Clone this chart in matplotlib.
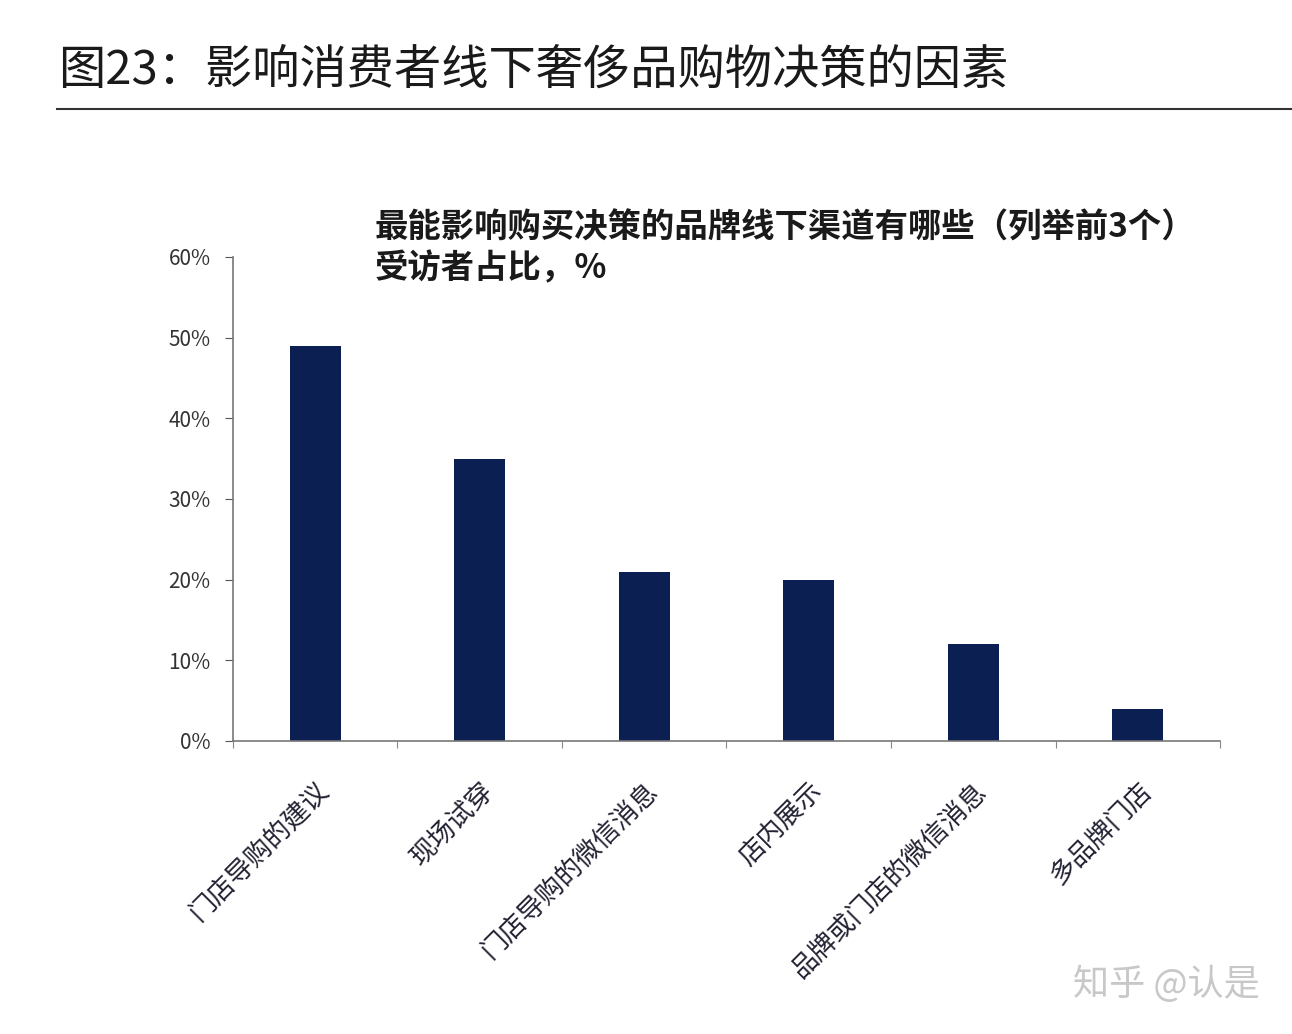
import matplotlib.pyplot as plt
from matplotlib.ticker import FuncFormatter

plt.rcParams['font.family'] = ['Noto Sans CJK SC', 'DejaVu Sans']

categories = ['门店导购的建议', '现场试穿', '门店导购的微信消息', '店内展示',
              '品牌或门店的微信消息', '多品牌门店']
values = [0.49, 0.35, 0.21, 0.20, 0.12, 0.04]
yticks = [0, 0.1, 0.2, 0.3, 0.4, 0.5, 0.6]

fig = plt.figure(figsize=(12.92, 10.34), dpi=100)

# header
fig.text(0.045, 0.932, '图23：影响消费者线下奢侈品购物决策的因素', fontsize=34,
         color='#1a1a1a', va='center', ha='left')
fig.add_artist(plt.Line2D([0.044, 1.0], [0.895, 0.895], color='#333333', lw=1.5))

ax = fig.add_axes([0.1803, 0.2834, 0.764, 0.4681])
x = range(len(categories))
ax.bar(x, values, width=0.31, color='#0b1f52')

ax.set_xlim(-0.5, len(categories) - 0.5)
ax.set_ylim(0, 0.6)
ax.set_yticks(yticks)
ax.yaxis.set_major_formatter(FuncFormatter(lambda v, p: f'{v*100:.0f}%'))
ax.tick_params(axis='y', labelsize=15, colors='#555555', labelcolor='#333333',
               length=6, pad=10)

ax.set_xticks([i - 0.5 for i in range(len(categories) + 1)])
ax.set_xticklabels([])
ax.set_xticks(list(x), minor=True)
ax.set_xticklabels(categories, minor=True, rotation=45, ha='right',
                   rotation_mode='anchor', fontsize=19, color='#222233')
ax.tick_params(axis='x', which='major', length=5, colors='#888888')
ax.tick_params(axis='x', which='minor', length=0, pad=26)

for s in ['top', 'right']:
    ax.spines[s].set_visible(False)
for s in ['left', 'bottom']:
    ax.spines[s].set_color('#777777')
    ax.spines[s].set_linewidth(1.2)

fig.text(0.29, 0.779, '最能影响购买决策的品牌线下渠道有哪些（列举前3个）',
         fontsize=24, fontweight='bold', color='#1a1a1a', va='center')
fig.text(0.29, 0.740, '受访者占比，%', fontsize=24, fontweight='bold',
         color='#1a1a1a', va='center')

fig.text(0.975, 0.048, '知乎 @认是', fontsize=26, color='#c8c8c8',
         ha='right', va='center')

fig.savefig('out.png', dpi=100)
